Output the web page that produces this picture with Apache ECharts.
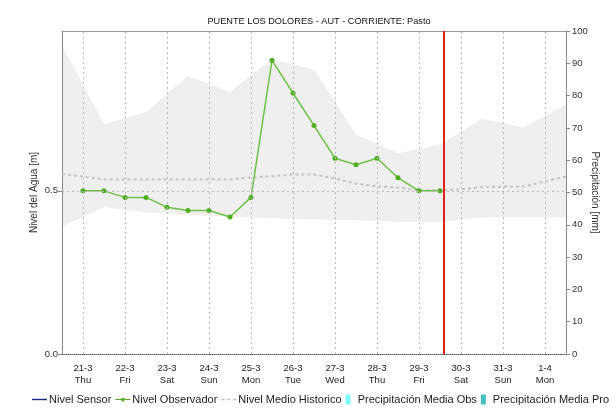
<!DOCTYPE html>
<html>
<head>
<meta charset="utf-8">
<script src="https://cdn.jsdelivr.net/npm/echarts@6/dist/echarts.min.js"></script>
<style>
html,body{margin:0;padding:0;background:#fff;}
#chart{width:614px;height:412px;}
</style>
</head>
<body>
<div id="chart"></div>
<script>
// Day labels (category ticks)
const dayLabels = ['21-3','22-3','23-3','24-3','25-3','26-3','27-3','28-3','29-3','30-3','31-3','1-4'];
const weekDays  = ['Thu','Fri','Sat','Sun','Mon','Tue','Wed','Thu','Fri','Sat','Sun','Mon'];
// Day positions (days from 21-3 12:00) for the vertical grid
const dayPositions = [0,1,2,3,4,5,6,7,8,9,10,11];

// Nivel Observador (time in days from 21-3 12:00, level in m)
const obsTimes = [0,0.5,1,1.5,2,2.5,3,3.5,4,4.5,5,5.5,6,6.5,7,7.5,8,8.5];
const obsLevel = [0.50,0.50,0.48,0.48,0.45,0.44,0.44,0.42,0.48,0.90,0.80,0.70,0.60,0.58,0.60,0.54,0.50,0.50];

// Historic min/max band (daily, at midnight)
const bandTimes = [-0.5,0.5,1.5,2.5,3.5,4.5,5.5,6.5,7.5,8.5,9.5,10.5,11.5];
const bandHigh  = [0.946,0.704,0.742,0.852,0.804,0.903,0.873,0.673,0.615,0.642,0.722,0.694,0.765];
const bandLow   = [0.391,0.450,0.434,0.427,0.420,0.416,0.412,0.410,0.405,0.404,0.418,0.419,0.419];

// Nivel Medio Historico
const meanTimes = [-0.5,0,0.5,1,1.5,2,2.5,3,3.5,4,4.5,5,5.5,6,6.5,7,7.5,8,8.5,9,9.5,10,10.5,11,11.5];
const meanLevel = [0.552,0.544,0.535,0.535,0.535,0.535,0.535,0.535,0.535,0.541,0.545,0.550,0.550,0.538,0.522,0.514,0.510,0.502,0.502,0.505,0.512,0.513,0.514,0.529,0.544];

// Current time marker
const nowTime = 8.6;
const levelGrid = [0.5];

const FONT = '"Liberation Sans", Arial, sans-serif';
const chart = echarts.init(document.getElementById('chart'), null, {renderer:'canvas'});

const bandData = bandTimes.map((t,i)=>[t, bandLow[i], bandHigh[i]]);

const option = {
  animation: false,
  backgroundColor: '#fff',
  textStyle: {fontFamily: FONT},
  title: {
    text: 'PUENTE LOS DOLORES - AUT - CORRIENTE: Pasto',
    left: 314, top: 12, textAlign: 'center',
    textStyle: {fontSize: 9.2, fontWeight: 'normal', color: '#111', fontFamily: FONT}
  },
  grid: {left: 62, right: 48, top: 31, bottom: 58, containLabel: false, outerBoundsMode: 'none'},
  legend: {
    left: 27, top: 389, width: 590,
    itemWidth: 15, itemHeight: 10, itemGap: 4,
    textStyle: {fontSize: 11, color: '#222', fontFamily: FONT, padding: [0,0,0,-3]},
    data: [
      {name: 'Nivel Sensor', icon: 'path://M0,4.3H15V5.7H0Z'},
      {name: 'Nivel Observador', icon: 'path://M0,4.4H15V5.6H0Z M9.3,5A1.8,1.8 0 1 1 9.29,4.9Z M0,2.5H0.01V2.51H0Z M0,7.5H0.01V7.51H0Z'},
      {name: 'Nivel Medio Historico', icon: 'path://M0,4.3H3V5.7H0Z M5,4.3H8V5.7H5Z M10,4.3H13V5.7H10Z'},
      {name: 'Precipitación Media Obs', icon: 'path://M0,0H5V10H0Z'},
      {name: 'Precipitación Media Pro', icon: 'path://M0,0H5V10H0Z'}
    ]
  },
  xAxis: [
    {
      type: 'category', position: 'bottom', data: dayLabels, boundaryGap: true,
      axisLine: {show: true, onZero: false, lineStyle: {color: '#555', type: 'dotted', width: 1}},
      axisTick: {show: false}, splitLine: {show: false},
      axisLabel: {
        margin: 8, fontSize: 9.5, color: '#222', lineHeight: 12, fontFamily: FONT,
        formatter: (v, i) => v + '\n' + weekDays[i]
      }
    },
    {
      type: 'value', position: 'top', min: -0.5, max: 11.5,
      axisLine: {show: true, onZero: false, lineStyle: {color: '#999', width: 1}},
      axisTick: {show: false}, axisLabel: {show: false}, splitLine: {show: false}
    }
  ],
  yAxis: [
    {
      type: 'value', position: 'left', min: 0, max: 0.99, interval: 0.5,
      name: 'Nivel del Agua [m]', nameLocation: 'middle', nameGap: 23, nameMoveOverlap: false,
      nameTextStyle: {fontSize: 10, color: '#333', fontFamily: FONT},
      axisLine: {show: true, onZero: false, lineStyle: {color: '#888'}},
      axisTick: {show: true, inside: false, length: 4, lineStyle: {color: '#888'}, customValues: [0, 0.5]},
      axisLabel: {fontSize: 9.5, color: '#333', margin: 4, fontFamily: FONT, customValues: [0, 0.5],
        formatter: v => (v >= 0.9 ? '' : v.toFixed(1))},
      splitLine: {show: false}
    },
    {
      type: 'value', position: 'right', min: 0, max: 100, interval: 10,
      name: 'Precipitación [mm]', nameLocation: 'middle', nameGap: 24, nameRotate: -90, nameMoveOverlap: false,
      nameTextStyle: {fontSize: 10, color: '#333', fontFamily: FONT},
      axisLine: {show: true, onZero: false, lineStyle: {color: '#888'}},
      axisTick: {show: true, inside: false, length: 4, lineStyle: {color: '#888'}},
      axisLabel: {fontSize: 9.5, color: '#333', margin: 6, fontFamily: FONT},
      splitLine: {show: false}
    }
  ],
  series: [
    {
      name: 'band', type: 'custom', xAxisIndex: 1, yAxisIndex: 0, z: -1, silent: true,
      clip: true,
      data: bandData,
      encode: {x: 0, y: [1, 2]},
      renderItem: function (params, api) {
        if (params.dataIndex !== 0) return null;
        const pts = [];
        for (let i = 0; i < bandTimes.length; i++) pts.push(api.coord([bandTimes[i], bandHigh[i]]));
        for (let i = bandTimes.length - 1; i >= 0; i--) pts.push(api.coord([bandTimes[i], bandLow[i]]));
        return {type: 'polygon', shape: {points: pts}, style: {fill: '#efefef', stroke: null}};
      }
    },
    {
      name: 'Nivel Sensor', type: 'line', xAxisIndex: 1, yAxisIndex: 0,
      data: [], symbol: 'none', color: '#1c2a80', lineStyle: {color: '#1c2a80', width: 1.5}
    },
    {
      name: 'Nivel Medio Historico', type: 'line', xAxisIndex: 1, yAxisIndex: 0,
      data: meanTimes.map((t,i)=>[t, meanLevel[i]]),
      symbol: 'none', color: '#c4c4c4',
      lineStyle: {color: '#c4c4c4', width: 2, type: [3, 3]},
      markLine: {
        silent: true, symbol: ['none','none'], label: {show: false},
        lineStyle: {color: '#b8b8b8', type: [2, 3], width: 1},
        emphasis: {disabled: true},
        data: dayPositions.map(t => ({xAxis: t})).concat(levelGrid.map(v => ({yAxis: v})))
      }
    },
    {
      name: 'Nivel Observador', type: 'line', xAxisIndex: 1, yAxisIndex: 0,
      data: obsTimes.map((t,i)=>[t, obsLevel[i]]),
      symbol: 'circle', symbolSize: 5, color: '#5cb82e',
      lineStyle: {color: '#6cc244', width: 1.5},
      itemStyle: {color: '#4fae22'},
      markLine: {
        silent: true, symbol: ['none','none'], label: {show: false},
        lineStyle: {color: '#e0201b', type: 'solid', width: 2},
        emphasis: {disabled: true},
        data: [{xAxis: nowTime}]
      }
    },
    {
      name: 'Precipitación Media Obs', type: 'bar', xAxisIndex: 1, yAxisIndex: 1,
      data: [], color: '#7ff7f7'
    },
    {
      name: 'Precipitación Media Pro', type: 'bar', xAxisIndex: 1, yAxisIndex: 1,
      data: [], color: '#45bfc0'
    }
  ]
};
chart.setOption(option);
</script>
</body>
</html>
